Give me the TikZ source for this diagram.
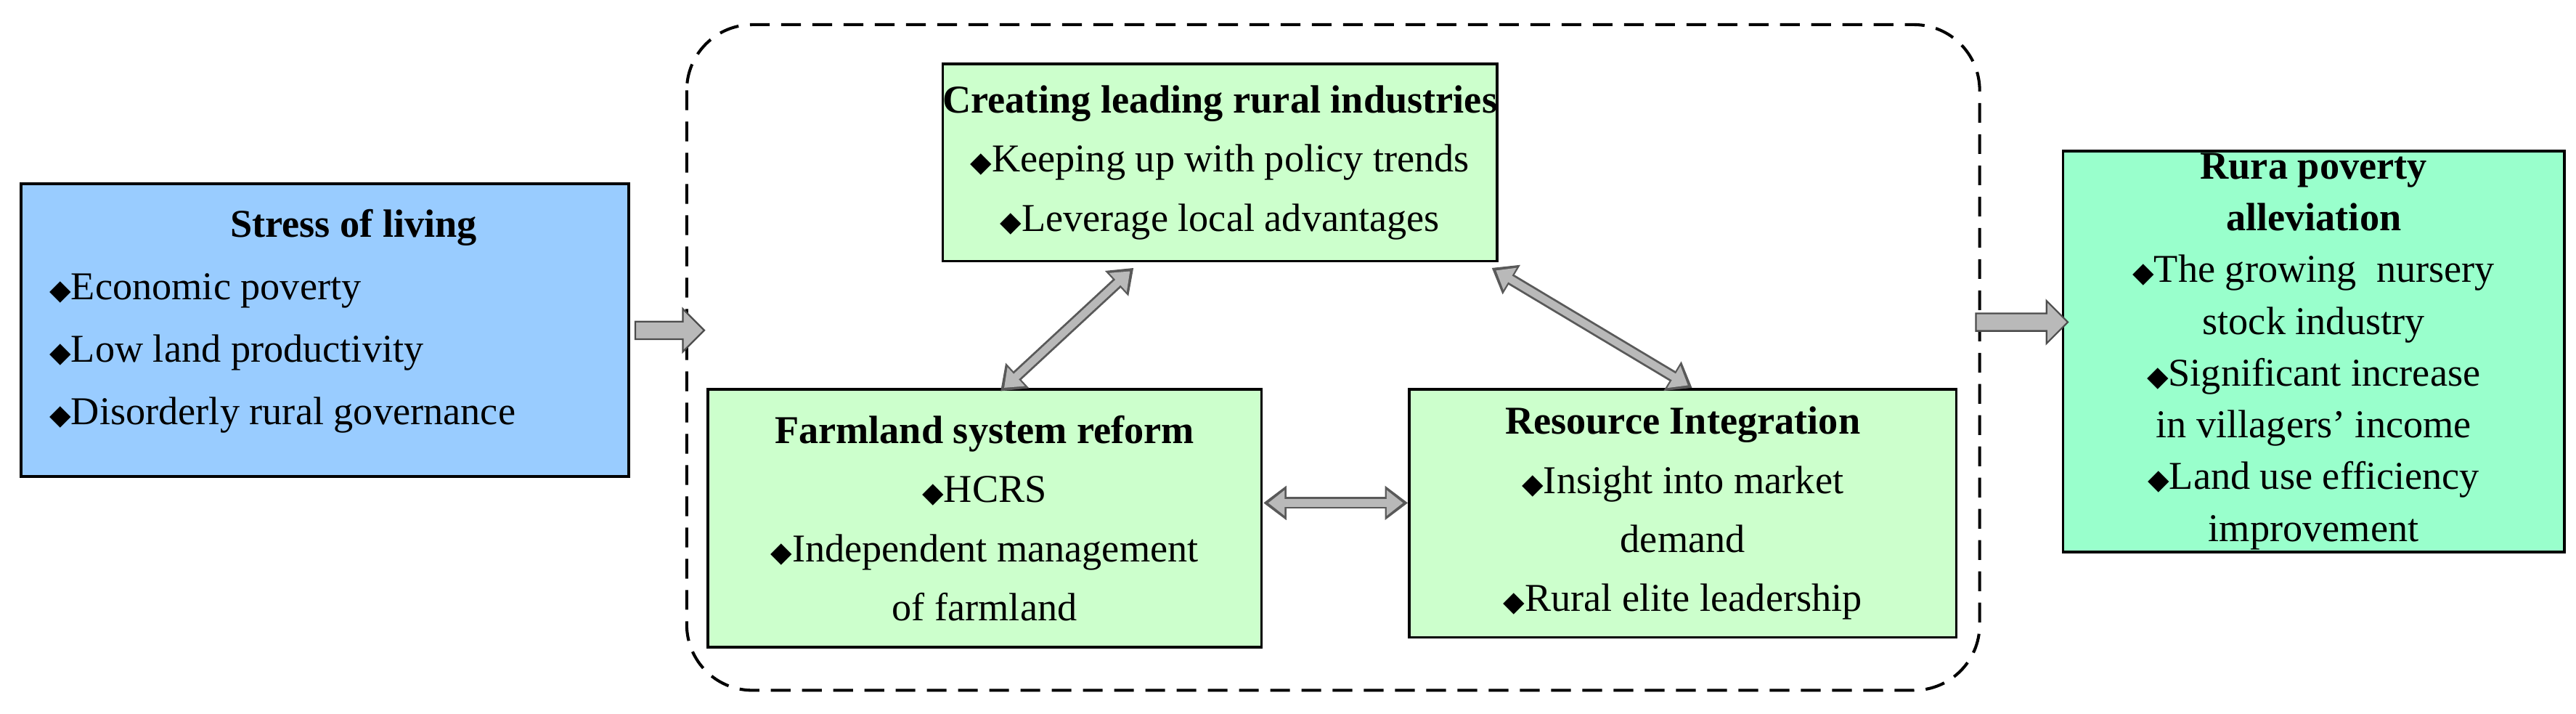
\documentclass[tikz,border=0pt]{standalone}
\usepackage{fontspec}
\setmainfont{Liberation Serif}
\newfontfamily\djv{DejaVu Sans}
\usetikzlibrary{arrows.meta,shapes.arrows}
\newcommand{\dm}{{\djv\fontsize{17}{17}\selectfont ◆}}
\definecolor{bluebox}{RGB}{153,204,255}
\definecolor{greenbox}{RGB}{204,255,204}
\definecolor{outbox}{RGB}{153,255,204}
\tikzset{
  box/.style={draw=black, line width=1.6pt, anchor=north west, inner sep=0pt, align=center, font=\fontsize{24}{36}\selectfont},
  green/.style={box, fill=greenbox},
  biarrow/.style={draw=gray!70!black, line width=7pt, {Triangle[length=14pt,width=20pt]}-{Triangle[length=14pt,width=20pt]}},
  biinner/.style={draw=gray!55, line width=4.5pt, shorten <=3pt, shorten >=3pt, {Triangle[length=10pt,width=15pt]}-{Triangle[length=10pt,width=15pt]}},
  blockarr/.style={single arrow, draw=gray!60!black, fill=gray!55, line width=1pt, minimum height=42pt, minimum width=26pt, single arrow head extend=5pt, inner sep=3pt}
}
\begin{document}
\begin{tikzpicture}[x=1pt,y=-1pt]
\useasboundingbox (0,0) rectangle (1568,434);
\draw[dashed, line width=1.8pt, dash pattern=on 12pt off 7pt, rounded corners=40pt] (418,15) rectangle (1205,420);
\node[box, fill=bluebox, minimum width=370pt, minimum height=178pt] (stress) at (12,111) {};
\node[align=left, anchor=north west, inner sep=0pt, font=\fontsize{24}{38}\selectfont] (stxt) at (30,127) {\hspace*{110pt}\textbf{Stress of living}\\ \dm Economic poverty\\ \dm Low land productivity\\ \dm Disorderly rural governance};
\node[green, minimum width=335pt, minimum height=120pt] (top) at (573,38) {\textbf{Creating leading rural industries}\\ \dm Keeping up with policy trends\\ \dm Leverage local advantages};
\node[green, minimum width=337pt, minimum height=157pt] (farm) at (430,236) {\textbf{Farmland system reform}\\ \dm HCRS\\ \dm Independent management\\ of farmland};
\node[green, minimum width=333pt, minimum height=151pt] (res) at (857,236) {\textbf{Resource Integration}\\ \dm Insight into market\\ demand\\ \dm Rural elite leadership};
\node[box, fill=outbox, minimum width=305pt, minimum height=244pt, font=\fontsize{24}{31.5}\selectfont] (out) at (1255,91) {\textbf{Rura poverty}\\ \textbf{alleviation}\\ \dm The growing~ nursery\\ stock industry\\ \dm Significant increase\\ in villagers' income\\ \dm Land use efficiency\\ improvement};
\coordinate (a1) at (690,163); \coordinate (a2) at (609,238);
\coordinate (b1) at (908,163); \coordinate (b2) at (1030,236);
\coordinate (c1) at (769,306); \coordinate (c2) at (857,306);
\foreach \p/\q in {a1/a2,b1/b2,c1/c2}{\draw[biarrow] (\p)--(\q); \draw[biinner] (\p)--(\q);}
\node[blockarr] (la) at (405,201) {};
\node[blockarr, minimum height=56pt] (ra) at (1228,196) {};
\end{tikzpicture}
\end{document}
